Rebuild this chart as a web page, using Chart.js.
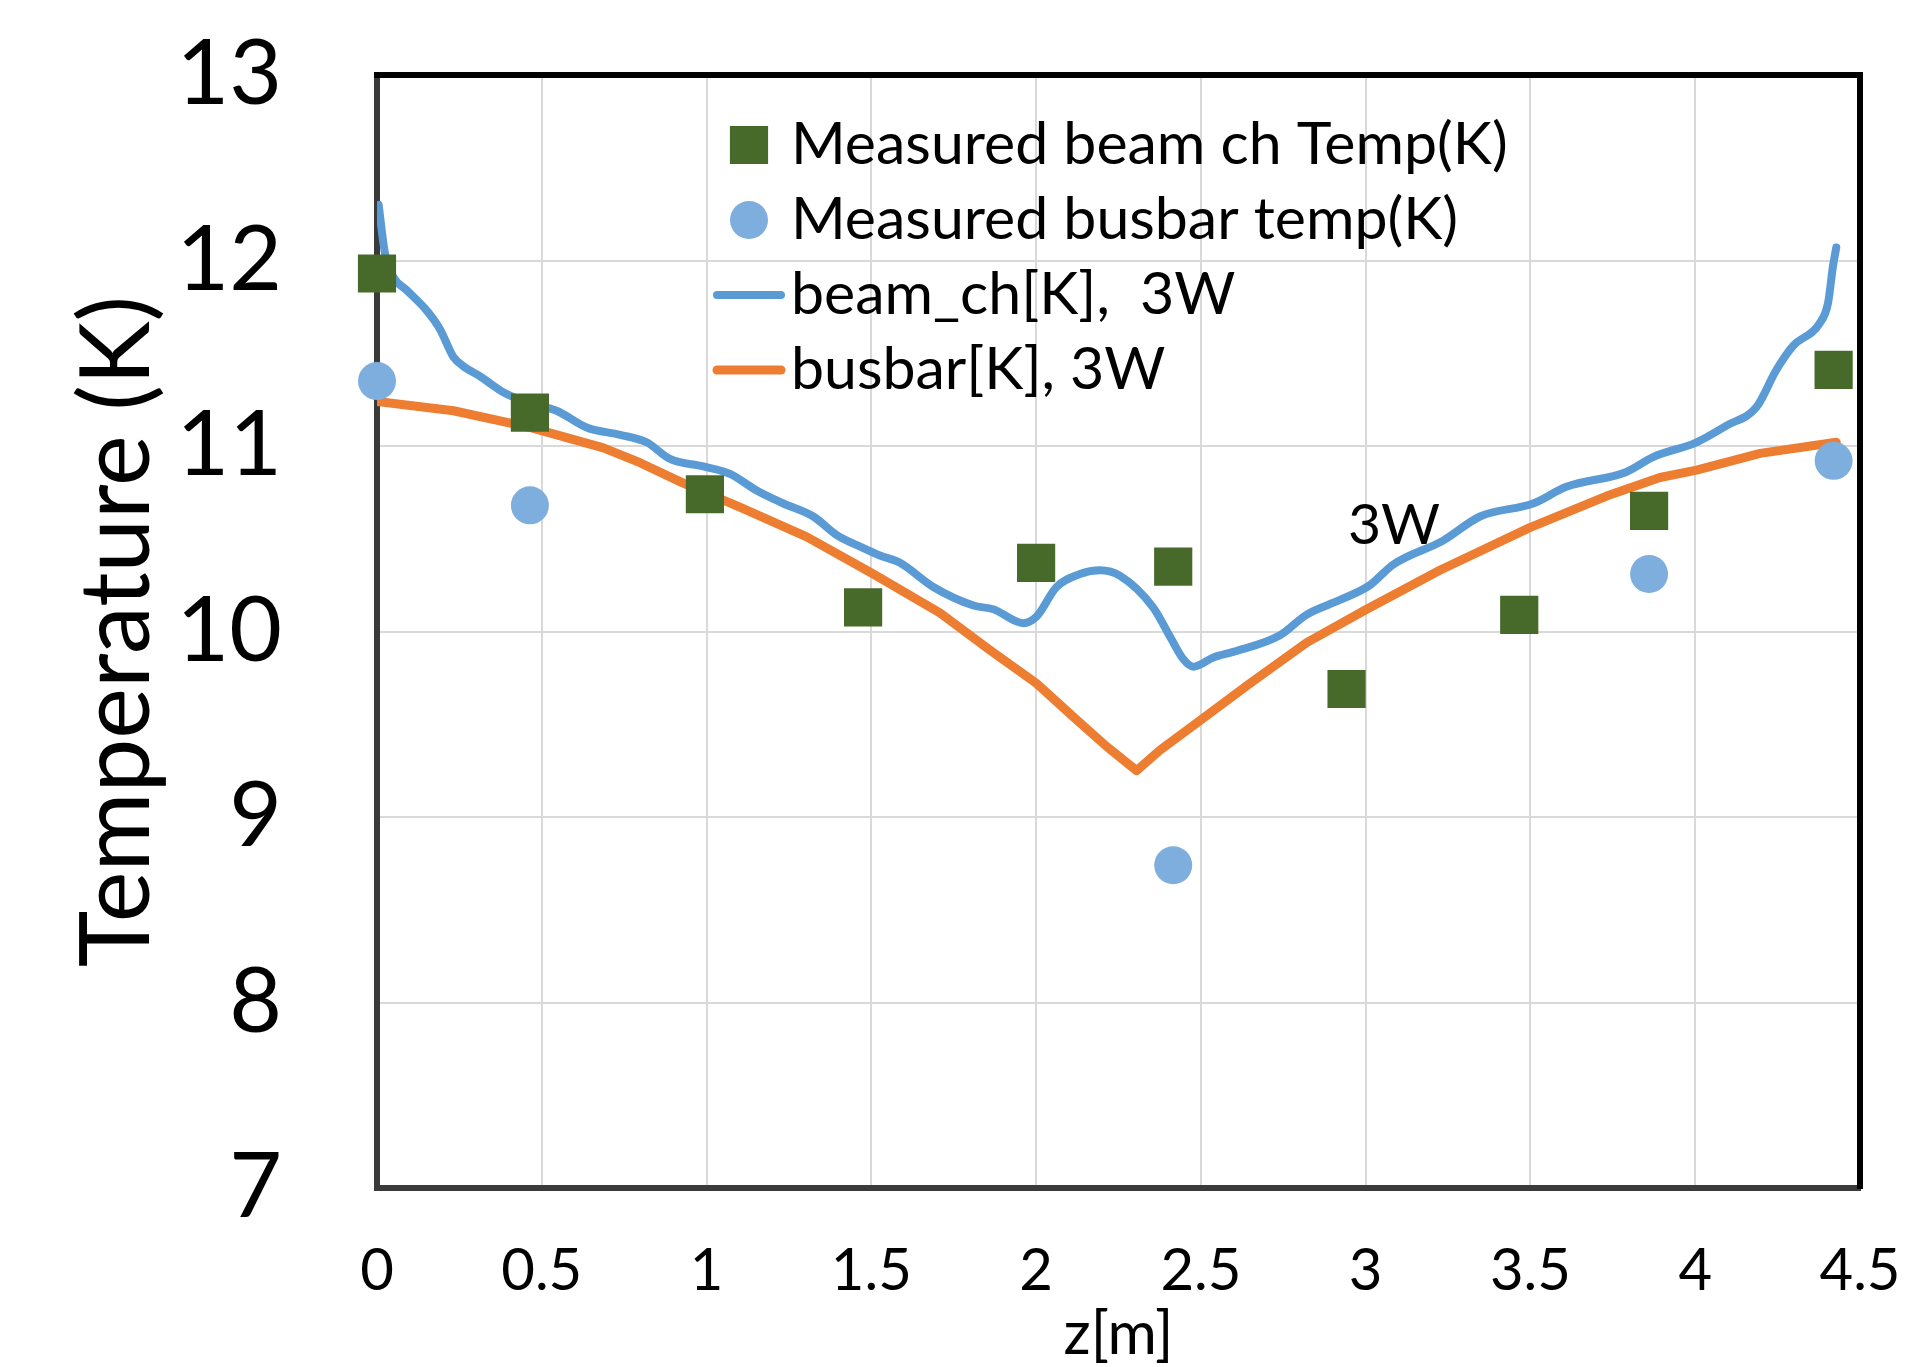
<!DOCTYPE html>
<html>
<head>
<meta charset="utf-8">
<script src="https://cdn.jsdelivr.net/npm/chart.js@4/dist/chart.umd.min.js"></script>
<style>
html,body{margin:0;padding:0;background:#fff;}
#wrap{width:1906px;height:1367px;position:relative;}
</style>
</head>
<body>
<div id="wrap"><canvas id="c" width="1906" height="1367"></canvas></div>
<script>
// ---- data ----
const seriesNames = ['Measured beam ch Temp(K)', 'Measured busbar temp(K)', 'beam_ch[K],  3W', 'busbar[K], 3W'];

const beamMeasZ = [0, 0.464, 0.995, 1.475, 2.0, 2.416, 2.942, 3.466, 3.86, 4.42];
const beamMeasT = [11.93, 11.18, 10.74, 10.13, 10.37, 10.35, 9.69, 10.09, 10.65, 11.41];

const busMeasZ = [0, 0.464, 2.416, 3.86, 4.42];
const busMeasT = [11.35, 10.68, 8.74, 10.31, 10.92];

const beamSimZ = [0.005, 0.024, 0.05, 0.09, 0.151, 0.191, 0.232, 0.262, 0.313, 0.383, 0.464, 0.545, 0.636, 0.738, 0.818, 0.889, 0.99, 1.071, 1.152, 1.233, 1.324, 1.395, 1.476, 1.526, 1.587, 1.688, 1.81, 1.87, 1.961, 2.001, 2.062, 2.133, 2.194, 2.255, 2.355, 2.407, 2.447, 2.477, 2.538, 2.598, 2.74, 2.82, 2.922, 3.013, 3.083, 3.235, 3.347, 3.508, 3.609, 3.791, 3.872, 4.004, 4.095, 4.186, 4.246, 4.297, 4.377, 4.403, 4.418, 4.428];
const beamSimT = [12.30, 12.04, 11.91, 11.84, 11.73, 11.63, 11.48, 11.43, 11.375, 11.29, 11.23, 11.19, 11.10, 11.06, 11.02, 10.93, 10.89, 10.85, 10.76, 10.69, 10.62, 10.52, 10.45, 10.41, 10.37, 10.24, 10.14, 10.12, 10.045, 10.08, 10.24, 10.31, 10.33, 10.30, 10.13, 9.97, 9.85, 9.81, 9.86, 9.89, 9.98, 10.09, 10.17, 10.25, 10.36, 10.49, 10.62, 10.69, 10.78, 10.86, 10.94, 11.02, 11.11, 11.21, 11.41, 11.54, 11.66, 11.77, 11.97, 12.07];

const busSimZ = [0, 0.232, 0.464, 0.687, 0.798, 0.929, 1.101, 1.304, 1.506, 1.708, 1.86, 2.001, 2.113, 2.214, 2.305, 2.376, 2.497, 2.649, 2.821, 3.003, 3.225, 3.498, 3.731, 3.893, 4.004, 4.197, 4.428];
const busSimT = [11.24, 11.19, 11.10, 10.99, 10.91, 10.80, 10.67, 10.51, 10.31, 10.10, 9.90, 9.72, 9.54, 9.38, 9.25, 9.36, 9.52, 9.72, 9.94, 10.12, 10.33, 10.56, 10.73, 10.83, 10.87, 10.96, 11.02];

const xTickValues = [0, 0.5, 1, 1.5, 2, 2.5, 3, 3.5, 4, 4.5];
const xTickLabels = ['0', '0.5', '1', '1.5', '2', '2.5', '3', '3.5', '4', '4.5'];
const yTickValues = [7, 8, 9, 10, 11, 12, 13];
const yTickLabels = ['7', '8', '9', '10', '11', '12', '13'];

const annotationText = '3W';
const annotationZ = 3.086;
const annotationT = 10.57;

const xTitle = 'z[m]';
const yTitle = 'Temperature (K)';

// ---- styling ----
const FONT = "Lato, 'Open Sans', sans-serif";
const GREEN = '#476A2B';
const LIGHTBLUE = '#7EAEDD';
const BLUE = '#5B9BD5';
const ORANGE = '#ED7D31';

const toPts = (xs, ys) => xs.map((x, i) => ({x: x, y: ys[i]}));

const legendLayout = {markerX: 749, firstY: 145, gap: 75, textX: 791, lineHalf: 32, fontSize: 59};

const insideLegend = {
  id: 'insideLegend',
  afterDatasetsDraw(chart) {
    const ctx = chart.ctx;
    const L = legendLayout;
    chart.data.datasets.forEach((ds, i) => {
      const cy = L.firstY + i * L.gap;
      ctx.save();
      if (ds.showLine) {
        ctx.strokeStyle = ds.borderColor;
        ctx.lineWidth = ds.borderWidth;
        ctx.lineCap = 'round';
        ctx.beginPath();
        ctx.moveTo(L.markerX - L.lineHalf, cy);
        ctx.lineTo(L.markerX + L.lineHalf, cy);
        ctx.stroke();
      } else {
        ctx.fillStyle = ds.backgroundColor;
        Chart.helpers.drawPoint(ctx, {pointStyle: ds.pointStyle, radius: ds.pointRadius, borderWidth: 0, rotation: 0}, L.markerX, cy);
      }
      ctx.fillStyle = '#000';
      ctx.font = L.fontSize + 'px ' + FONT;
      ctx.textBaseline = 'middle';
      ctx.textAlign = 'left';
      ctx.fillText(ds.label, L.textX, cy);
      ctx.restore();
    });
  }
};

const annotationPlugin = {
  id: 'annot3w',
  afterDatasetsDraw(chart) {
    const ctx = chart.ctx;
    const px = chart.scales.x.getPixelForValue(annotationZ);
    const py = chart.scales.y.getPixelForValue(annotationT);
    ctx.save();
    ctx.fillStyle = '#000';
    ctx.font = '57px ' + FONT;
    ctx.textAlign = 'center';
    ctx.textBaseline = 'middle';
    ctx.fillText(annotationText, px, py);
    ctx.restore();
  }
};

function build() {
  new Chart(document.getElementById('c'), {
    type: 'scatter',
    data: {
      datasets: [
        {label: seriesNames[0], data: toPts(beamMeasZ, beamMeasT), pointStyle: 'rect', pointRadius: 27, pointHoverRadius: 27,
         backgroundColor: GREEN, borderColor: GREEN, borderWidth: 0, showLine: false, clip: false},
        {label: seriesNames[1], data: toPts(busMeasZ, busMeasT), pointStyle: 'circle', pointRadius: 19, pointHoverRadius: 19,
         backgroundColor: LIGHTBLUE, borderColor: LIGHTBLUE, borderWidth: 0, showLine: false, clip: false},
        {label: seriesNames[2], data: toPts(beamSimZ, beamSimT), showLine: true, borderColor: BLUE, backgroundColor: BLUE,
         borderWidth: 8, pointRadius: 0, cubicInterpolationMode: 'monotone', borderCapStyle: 'round', borderJoinStyle: 'round'},
        {label: seriesNames[3], data: toPts(busSimZ, busSimT), showLine: true, borderColor: ORANGE, backgroundColor: ORANGE,
         borderWidth: 9, pointRadius: 0, tension: 0, borderCapStyle: 'round', borderJoinStyle: 'round'}
      ]
    },
    options: {
      responsive: false,
      animation: false,
      devicePixelRatio: 1,
      layout: {padding: {top: 75, right: 46, left: 0, bottom: 0}},
      plugins: {legend: {display: false}, tooltip: {enabled: false}},
      scales: {
        x: {
          type: 'linear', position: 'bottom', min: 0, max: 4.5,
          afterBuildTicks: s => { s.ticks = xTickValues.map(v => ({value: v})); },
          afterFit: s => { s.height = 179; s.paddingLeft = 0; s.paddingRight = 0; },
          ticks: {color: '#000', font: {family: FONT, size: 58}, padding: 48, maxRotation: 0, autoSkip: false,
                  callback: (v, i) => xTickLabels[i]},
          grid: {color: '#D9D9D9', lineWidth: 2, drawTicks: false},
          border: {display: true, color: '#3A3A3A', width: 6},
          title: {display: true, text: xTitle, color: '#000', font: {family: FONT, size: 60}, padding: {top: 0, bottom: -4}}
        },
        y: {
          type: 'linear', position: 'left', min: 7, max: 13,
          afterBuildTicks: s => { s.ticks = yTickValues.map(v => ({value: v})); },
          afterFit: s => { s.width = 377; s.paddingTop = 0; s.paddingBottom = 0; },
          ticks: {color: '#000', font: {family: FONT, size: 91}, padding: 95, callback: (v, i) => yTickLabels[i]},
          grid: {color: '#D9D9D9', lineWidth: 2, drawTicks: false},
          border: {display: true, color: '#3A3A3A', width: 6},
          title: {display: true, text: yTitle, color: '#000', font: {family: FONT, size: 96}, padding: {top: 60, bottom: 0}}
        },
        x2: {
          type: 'linear', position: 'top', min: 0, max: 4.5, display: true,
          afterFit: s => { s.height = 0; },
          ticks: {display: false}, grid: {display: false, drawTicks: false},
          border: {display: true, color: '#000', width: 6}
        },
        y2: {
          type: 'linear', position: 'right', min: 7, max: 13, display: true,
          afterFit: s => { s.width = 0; },
          ticks: {display: false}, grid: {display: false, drawTicks: false},
          border: {display: true, color: '#000', width: 6}
        }
      }
    },
    plugins: [insideLegend, annotationPlugin]
  });
}

if (document.fonts && document.fonts.load) {
  Promise.all([document.fonts.load('55px Lato'), document.fonts.load('92px Lato')]).then(build, build);
} else { build(); }
</script>
</body>
</html>
